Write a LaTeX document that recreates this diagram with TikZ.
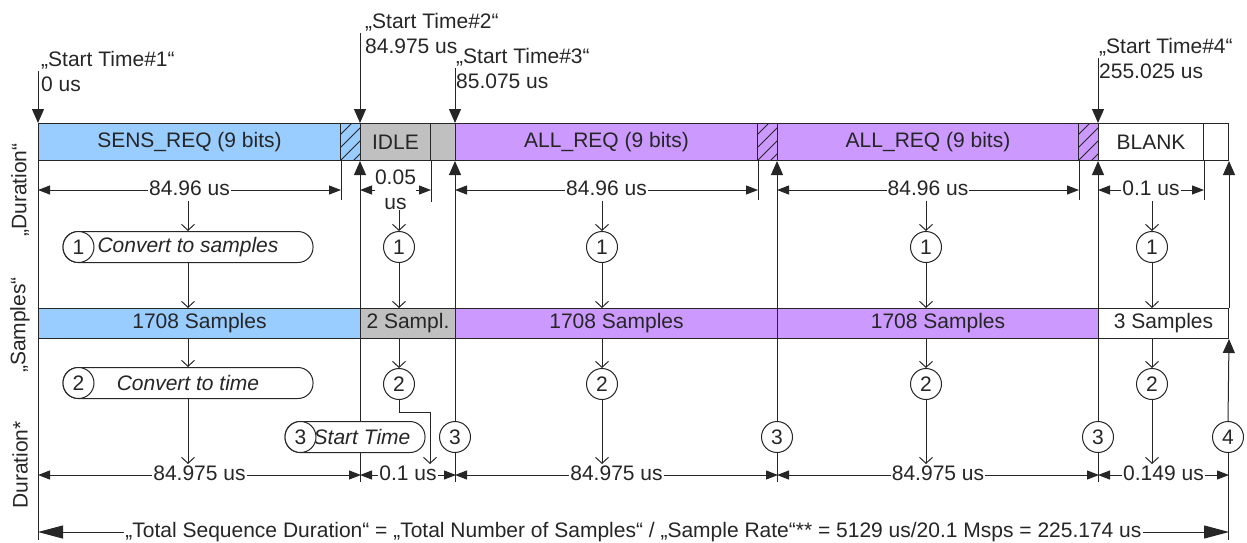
\documentclass[tikz,border=0pt]{standalone}
\usepackage{fontspec}
\setmainfont{Liberation Sans}
\usetikzlibrary{arrows.meta,positioning}

\definecolor{sensblue}{HTML}{99CCFF}
\definecolor{allviolet}{HTML}{CC99FF}
\definecolor{idlegray}{HTML}{C0C0C0}
\definecolor{ink}{HTML}{262626}
\newcommand\diagfont{\fontsize{21}{25}\selectfont}

\tikzset{
  seg/.style={draw=ink, line width=1pt, anchor=north west, inner sep=0pt, minimum height=37pt, text=ink},
  sampseg/.style={seg, minimum height=30pt},
  hatched/.style={seg, path picture={\foreach \d in {-39,-26,...,13} \draw[ink, line width=0.9pt] ([xshift=\d pt]path picture bounding box.south west) -- ++(40pt,40pt);}},
  num/.style={circle, draw=ink, fill=white, line width=1pt, minimum size=31pt, inner sep=0pt, text=ink},
  pill/.style={draw=ink, fill=white, line width=1pt, rounded corners=15pt, minimum height=31pt, inner sep=0pt, text=ink, font=\diagfont\itshape},
  startlbl/.style={anchor=west, align=left, inner sep=0pt, text=ink},
  dimlbl/.style={fill=white, inner sep=1pt, text=ink, text height=15pt, text depth=4pt},
  guide/.style={draw=ink, line width=1pt},
  dimline/.style={guide, {Triangle[length=12pt,width=9pt]}-{Triangle[length=12pt,width=9pt]}},
  totalline/.style={guide, {Triangle[length=25pt,width=13pt]}-{Triangle[length=25pt,width=13pt]}},
  downarrow/.style={guide, -{Triangle[length=14pt,width=12pt]}},
  uparrow/.style={guide, -{Triangle[length=14pt,width=12pt]}},
  flow/.style={guide, -{Straight Barb[length=6pt,width=13pt]}},
}

\begin{document}
\begin{tikzpicture}[x=1pt, y=-1pt, font=\diagfont]
\useasboundingbox (0,0) rectangle (1247,542);

% levels
\coordinate (updim) at (0,190);
\coordinate (lowdim) at (0,475);
\coordinate (tickend) at (0,482);
\coordinate (total) at (0,532);
\coordinate (floor) at (0,540);

% axis labels
\node[rotate=90, text=ink] (axdur) at (20,190) {„Duration“};
\node[rotate=90, text=ink] (axsmp) at (20,325) {„Samples“};
\node[rotate=90, text=ink] (axtime) at (20,465) {Duration*};

% frame bar
\node[seg, fill=sensblue, minimum width=302pt] (sens) at (38,123) {SENS\_REQ (9 bits)};
\node[hatched, fill=sensblue, minimum width=20pt] (hatchA) at (340,123) {};
\node[seg, fill=idlegray, minimum width=70pt] (idle) at (360,123) {IDLE};
\node[seg, fill=idlegray, minimum width=25pt] (idlerest) at (430,123) {};
\node[seg, fill=allviolet, minimum width=302pt] (allA) at (455,123) {ALL\_REQ (9 bits)};
\node[hatched, fill=allviolet, minimum width=20pt] (hatchB) at (757,123) {};
\node[seg, fill=allviolet, minimum width=301pt] (allB) at (777,123) {ALL\_REQ (9 bits)};
\node[hatched, fill=allviolet, minimum width=20pt] (hatchC) at (1078,123) {};
\node[seg, fill=white, minimum width=105pt] (blank) at (1098,123) {BLANK};
\node[seg, fill=white, minimum width=25pt] (blankrest) at (1203,123) {};

% sample bar
\node[sampseg, fill=sensblue, minimum width=322pt] (smpA) at (38,308) {1708 Samples};
\node[sampseg, fill=idlegray, minimum width=95pt] (smpB) at (360,308) {2 Sampl.};
\node[sampseg, fill=allviolet, minimum width=322pt] (smpC) at (455,308) {1708 Samples};
\node[sampseg, fill=allviolet, minimum width=321pt] (smpD) at (777,308) {1708 Samples};
\node[sampseg, fill=white, minimum width=130pt] (smpE) at (1098,308) {3 Samples};

% start times
\node[startlbl] (stA) at (41,71) {„Start Time\#1“\\0 us};
\node[startlbl] (stB) at (365,33) {„Start Time\#2“\\84.975 us};
\node[startlbl] (stC) at (456,68) {„Start Time\#3“\\85.075 us};
\node[startlbl] (stD) at (1099,58) {„Start Time\#4“\\255.025 us};
\draw[downarrow] (sens.north west |- stA.center) -- (sens.north west);
\draw[downarrow] (idle.north west |- stB.center) -- (idle.north west);
\draw[downarrow] (allA.north west |- stC.center) -- (allA.north west);
\draw[downarrow] (blank.north west |- stD.center) -- (blank.north west);

% upper durations
\draw[guide] (sens.south east) -- (sens.south east |- 0,200);
\draw[guide] (idle.south east) -- (idle.south east |- 0,202);
\draw[guide] (allA.south east) -- (allA.south east |- 0,200);
\draw[guide] (allB.south east) -- (allB.south east |- 0,200);
\draw[guide] (blank.south east) -- (blank.south east |- 0,200);
\draw[dimline] (sens.south west |- updim) -- (sens.south east |- updim) node[dimlbl, midway] (duA) {84.96 us};
\draw[dimline] (idle.south west |- updim) -- (idle.south east |- updim) node[dimlbl, midway, align=center, text height=, text depth=, inner sep=0pt] (duB) {0.05\\us};
\draw[dimline] (allA.south west |- updim) -- (allA.south east |- updim) node[dimlbl, midway] (duC) {84.96 us};
\draw[dimline] (allB.south west |- updim) -- (allB.south east |- updim) node[dimlbl, midway] (duD) {84.96 us};
\draw[dimline] (blank.south west |- updim) -- (blank.south east |- updim) node[dimlbl, midway] (duE) {0.1 us};

% idle boundary
\draw[uparrow] (idle.south west |- tickend) -- (idle.south west);

% conversion steps
\node[pill, minimum width=250pt] (convA) at (188,247) {Convert to samples};
\node[num, anchor=west] (oneA) at (convA.west) {1};
\node[pill, minimum width=250pt] (timeA) at (188,383) {Convert to time};
\node[num, anchor=west] (twoA) at (timeA.west) {2};
\node[num] (oneB) at (399,247) {1};
\node[num] (twoB) at (399,384) {2};
\node[num] (oneC) at (602,247) {1};
\node[num] (twoC) at (602,384) {2};
\node[num] (oneD) at (926,247) {1};
\node[num] (twoD) at (926,384) {2};
\node[num] (oneE) at (1152,247) {1};
\node[num] (twoE) at (1152,384) {2};
\node[pill, minimum width=140pt] (startp) at (355,437) {\hspace*{14pt}Start Time};
\node[num, anchor=west] (threeA) at (startp.west) {3};
\node[num] (threeB) at (455,437) {3};
\node[num] (threeC) at (777,437) {3};
\node[num] (threeD) at (1098,437) {3};
\node[num] (four) at (1228,437) {4};

% lower durations
\draw[dimline] (smpA.south west |- lowdim) -- (smpA.south east |- lowdim) node[dimlbl, midway] (dlA) {84.975 us};
\draw[dimline] (smpB.south west |- lowdim) -- (smpB.south east |- lowdim) node[dimlbl, midway] (dlB) {0.1 us};
\draw[dimline] (smpC.south west |- lowdim) -- (smpC.south east |- lowdim) node[dimlbl, midway] (dlC) {84.975 us};
\draw[dimline] (smpD.south west |- lowdim) -- (smpD.south east |- lowdim) node[dimlbl, midway] (dlD) {84.975 us};
\draw[dimline] (smpE.south west |- lowdim) -- (smpE.south east |- lowdim) node[dimlbl, midway] (dlE) {0.149 us};

% boundaries
\draw[guide] (sens.south west) -- (sens.south west |- floor);
\draw[uparrow] (threeB.north) -- (allA.south west);
\draw[guide] (threeB.south) -- (threeB.south |- tickend);
\draw[uparrow] (threeC.north) -- (allB.south west);
\draw[guide] (threeC.south) -- (threeC.south |- tickend);
\draw[uparrow] (threeD.north) -- (blank.south west);
\draw[guide] (threeD.south) -- (threeD.south |- tickend);
\draw[uparrow] (smpE.north east) -- (blankrest.south east);
\draw[uparrow] (four.north) -- (smpE.south east);
\draw[guide] (four.south) -- (four.south |- floor);

% flow
\draw[flow] (convA.north |- duA.south) -- (convA.north);
\draw[flow] (convA.south) -- (convA.south |- smpA.north);
\draw[flow] (timeA.north |- smpA.south) -- (timeA.north);
\draw[flow] (timeA.south) -- (timeA.south |- dlA.north);
\draw[flow] (oneB.north |- duB.south) -- (oneB.north);
\draw[flow] (oneB.south) -- (oneB.south |- smpB.north);
\draw[flow] (twoB.north |- smpB.south) -- (twoB.north);
\draw[flow] (twoB.south) -- ++(0,12) -| (idlerest.west |- dlB.north);
\draw[flow] (oneC.north |- duC.south) -- (oneC.north);
\draw[flow] (oneC.south) -- (oneC.south |- smpC.north);
\draw[flow] (twoC.north |- smpC.south) -- (twoC.north);
\draw[flow] (twoC.south) -- (twoC.south |- dlC.north);
\draw[flow] (oneD.north |- duD.south) -- (oneD.north);
\draw[flow] (oneD.south) -- (oneD.south |- smpD.north);
\draw[flow] (twoD.north |- smpD.south) -- (twoD.north);
\draw[flow] (twoD.south) -- (twoD.south |- dlD.north);
\draw[flow] (oneE.north |- duE.south) -- (oneE.north);
\draw[flow] (oneE.south) -- (oneE.south |- smpE.north);
\draw[flow] (twoE.north |- smpE.south) -- (twoE.north);
\draw[flow] (twoE.south) -- (twoE.south |- dlE.north);

% total
\draw[totalline] (sens.south west |- total) -- (smpE.south east |- total) node[dimlbl, midway] (tot) {„Total Sequence Duration“ = „Total Number of Samples“ / „Sample Rate“** = 5129 us/20.1 Msps = 225.174 us};
\end{tikzpicture}
\end{document}
